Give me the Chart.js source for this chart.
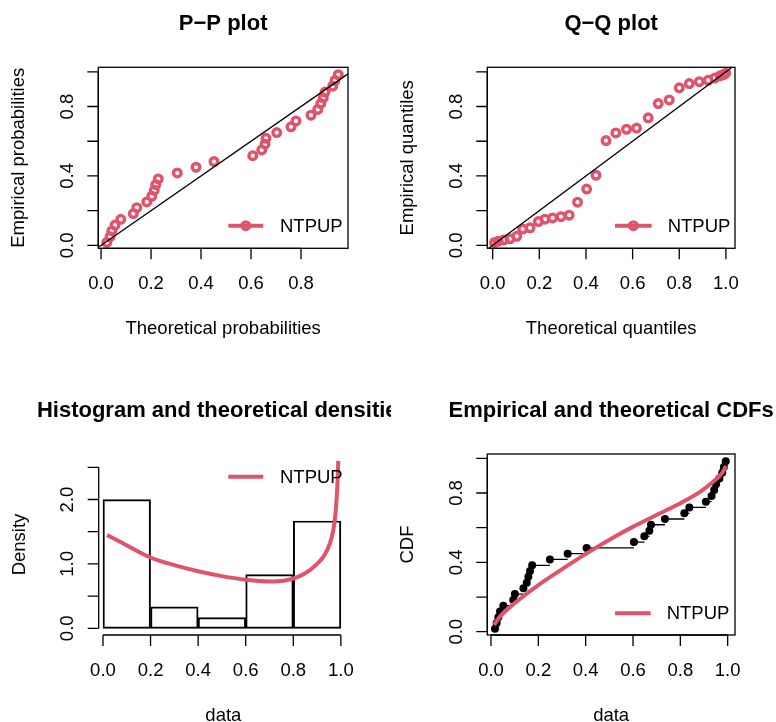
<!DOCTYPE html>
<html>
<head>
<meta charset="utf-8">
<script src="https://cdn.jsdelivr.net/npm/chart.js@4"></script>
<style>
  body { margin: 0; background: #fff; }
  #wrap { position: relative; width: 776px; height: 722px; overflow: hidden; }
  canvas { position: absolute; }
</style>
</head>
<body>
<div id="wrap">
  <canvas id="pp" width="388" height="361" style="left:0;top:0;z-index:1"></canvas>
  <canvas id="qq" width="388" height="361" style="left:388px;top:0;z-index:2"></canvas>
  <canvas id="hist" width="391" height="361" style="left:0;top:361px;z-index:1"></canvas>
  <canvas id="cdf" width="388" height="361" style="left:388px;top:361px;z-index:2"></canvas>
</div>
<script>
const obs = [0.017, 0.024, 0.031, 0.038, 0.052, 0.094, 0.101, 0.137, 0.151, 0.158,
             0.165, 0.174, 0.249, 0.324, 0.404, 0.604, 0.648, 0.669, 0.676, 0.735,
             0.817, 0.838, 0.908, 0.932, 0.943, 0.951, 0.965, 0.977, 0.984, 0.992];
// empirical probabilities
const probs = [0.017, 0.050, 0.083, 0.117, 0.150, 0.183, 0.217, 0.250, 0.283, 0.317,
               0.350, 0.383, 0.417, 0.450, 0.483, 0.517, 0.550, 0.583, 0.617, 0.650,
               0.683, 0.717, 0.750, 0.783, 0.817, 0.850, 0.883, 0.917, 0.950, 0.983];
// theoretical probabilities (P-P x values)
const ppTheo = [0.023, 0.036, 0.043, 0.056, 0.079, 0.129, 0.143, 0.183, 0.203, 0.213,
                0.219, 0.229, 0.305, 0.380, 0.452, 0.607, 0.643, 0.656, 0.660, 0.703,
                0.760, 0.780, 0.840, 0.867, 0.879, 0.889, 0.896, 0.927, 0.936, 0.949];
// theoretical quantiles (Q-Q x values)
const qqTheo = [0.008, 0.024, 0.048, 0.074, 0.103, 0.129, 0.160, 0.196, 0.224, 0.257,
                0.293, 0.328, 0.364, 0.403, 0.443, 0.486, 0.528, 0.574, 0.617, 0.667,
                0.710, 0.757, 0.800, 0.843, 0.886, 0.924, 0.953, 0.975, 0.990, 0.999];
// histogram
const histBreaks = [0, 0.2, 0.4, 0.6, 0.8, 1.0];
const histDensity = [2.0, 0.333, 0.167, 0.833, 1.667];
// fitted density curve
const densX = [0.017, 0.084, 0.2, 0.3, 0.4, 0.5, 0.6, 0.7, 0.76, 0.82, 0.87, 0.905, 0.93, 0.954, 0.968, 0.978, 0.985, 0.989];
const densY = [1.45, 1.32, 1.10, 0.98, 0.885, 0.81, 0.755, 0.728, 0.74, 0.80, 0.905, 1.02, 1.13, 1.32, 1.52, 1.80, 2.20, 2.6];
// fitted CDF curve
const cdfX = [0.013, 0.038, 0.094, 0.2, 0.305, 0.404, 0.517, 0.601, 0.714, 0.798, 0.883, 0.939, 0.975, 0.993];
const cdfY = [0.039, 0.087, 0.158, 0.269, 0.365, 0.452, 0.544, 0.606, 0.683, 0.74, 0.807, 0.865, 0.913, 0.956];
// ticks
const unitTicks = [0, 0.2, 0.4, 0.6, 0.8, 1.0];
const unitLabels = ['0.0', '0.2', '0.4', '0.6', '0.8', '1.0'];
const probYLabels = ['0.0', '', '0.4', '', '0.8', ''];
const densTicks = [0, 0.5, 1.0, 1.5, 2.0, 2.5];
const densLabels = ['0.0', '', '1.0', '', '2.0', ''];
const seriesName = 'NTPUP';

const RED = '#DF536B';
const FONT = "'Liberation Sans', Arial, Helvetica, sans-serif";

// R-like axes, box, titles and legend drawn from the chart's scales
const rAxes = {
  id: 'rAxes',
  afterDraw(chart, args, o) {
    const p = o.panel;
    const ctx = chart.ctx, a = chart.chartArea;
    const xs = chart.scales.x, ys = chart.scales.y;
    ctx.save();
    ctx.strokeStyle = '#000';
    ctx.fillStyle = '#000';
    ctx.lineWidth = 1.3;
    if (p.box) ctx.strokeRect(a.left, a.top, a.right - a.left, a.bottom - a.top);

    // x axis
    const xp = p.xTicks.map(v => xs.getPixelForValue(v));
    ctx.beginPath();
    ctx.moveTo(xp[0], a.bottom); ctx.lineTo(xp[xp.length - 1], a.bottom);
    xp.forEach(x => { ctx.moveTo(x, a.bottom); ctx.lineTo(x, a.bottom + 11); });
    ctx.stroke();
    ctx.font = '18.5px ' + FONT;
    ctx.textAlign = 'center';
    ctx.textBaseline = 'alphabetic';
    xp.forEach((x, i) => ctx.fillText(p.xLabels[i], x, a.bottom + 41));

    // y axis
    const yp = p.yTicks.map(v => ys.getPixelForValue(v));
    ctx.beginPath();
    ctx.moveTo(a.left, yp[0]); ctx.lineTo(a.left, yp[yp.length - 1]);
    yp.forEach(y => { ctx.moveTo(a.left, y); ctx.lineTo(a.left - 11, y); });
    ctx.stroke();
    yp.forEach((y, i) => {
      if (!p.yLabels[i]) return;
      ctx.save();
      ctx.translate(a.left - 25.5, y);
      ctx.rotate(-Math.PI / 2);
      ctx.fillText(p.yLabels[i], 0, 0);
      ctx.restore();
    });

    // axis titles
    const cx = (a.left + a.right) / 2, cy = (a.top + a.bottom) / 2;
    ctx.fillText(p.xTitle, cx, a.bottom + 85.5);
    ctx.save();
    ctx.translate(a.left - 74, cy);
    ctx.rotate(-Math.PI / 2);
    ctx.fillText(p.yTitle, 0, 0);
    ctx.restore();

    // main title
    ctx.font = 'bold 22px ' + FONT;
    ctx.fillText(p.title, cx, a.top - 37.3);

    // legend
    const lg = p.legend;
    ctx.strokeStyle = RED;
    ctx.lineWidth = 4;
    ctx.beginPath();
    ctx.moveTo(lg.x0, lg.y); ctx.lineTo(lg.x1, lg.y);
    ctx.stroke();
    if (lg.point) {
      ctx.lineWidth = 3.4;
      ctx.beginPath();
      ctx.arc((lg.x0 + lg.x1) / 2, lg.y, 3.8, 0, Math.PI * 2);
      ctx.stroke();
    }
    ctx.font = '18.5px ' + FONT;
    ctx.textAlign = 'left';
    ctx.textBaseline = 'middle';
    ctx.fillText(seriesName, lg.tx, lg.y + 1);
    ctx.restore();
  }
};

function makeChart(id, panel, datasets, xr, yr) {
  return new Chart(document.getElementById(id), {
    type: 'scatter',
    data: { datasets: datasets },
    options: {
      responsive: false,
      animation: false,
      devicePixelRatio: 1,
      events: [],
      layout: { padding: panel.pad },
      plugins: { legend: { display: false }, tooltip: { enabled: false }, rAxes: { panel: panel } },
      scales: {
        x: { type: 'linear', min: xr[0], max: xr[1], offset: false, display: false },
        y: { type: 'linear', min: yr[0], max: yr[1], display: false }
      }
    },
    plugins: [rAxes]
  });
}

const diag = {
  type: 'line', data: [{ x: -1, y: -1 }, { x: 2, y: 2 }],
  borderColor: '#000', borderWidth: 1.3, pointRadius: 0
};
const ringStyle = {
  type: 'scatter', borderColor: RED, backgroundColor: 'rgba(0,0,0,0)',
  pointRadius: 3.8, pointBorderWidth: 3.4
};

// P-P plot
makeChart('pp', {
  pad: { left: 98.3, top: 67.3, right: 40, bottom: 112.7 },
  box: true, title: 'P\u2212P plot', xTitle: 'Theoretical probabilities', yTitle: 'Empirical probabilities',
  xTicks: unitTicks.slice(0, 5), xLabels: unitLabels.slice(0, 5), yTicks: unitTicks, yLabels: probYLabels,
  legend: { x0: 228.3, x1: 263.3, y: 225.7, tx: 280, point: true }
}, [
  diag,
  Object.assign({ data: ppTheo.map((v, i) => ({ x: v, y: probs[i] })) }, ringStyle)
], [-0.011, 0.988], [-0.017, 1.026]);

// Q-Q plot
makeChart('qq', {
  pad: { left: 99.3, top: 67.3, right: 41, bottom: 112.7 },
  box: true, title: 'Q\u2212Q plot', xTitle: 'Theoretical quantiles', yTitle: 'Empirical quantiles',
  xTicks: unitTicks, xLabels: unitLabels, yTicks: unitTicks, yLabels: probYLabels,
  legend: { x0: 227, x1: 263.7, y: 225.7, tx: 279.7, point: true }
}, [
  diag,
  Object.assign({ data: qqTheo.map((v, i) => ({ x: v, y: obs[i] })) }, ringStyle)
], [-0.023, 1.039], [-0.017, 1.026]);

// Histogram and density
makeChart('hist', {
  pad: { left: 98.7, top: 93, right: 43, bottom: 87 },
  box: false, title: 'Histogram and theoretical densities', xTitle: 'data', yTitle: 'Density',
  xTicks: unitTicks, xLabels: unitLabels, yTicks: densTicks, yLabels: densLabels,
  legend: { x0: 228.3, x1: 263.3, y: 115.7, tx: 280, point: false }
}, [
  { type: 'line', data: densX.map((v, i) => ({ x: v, y: densY[i] })), borderColor: RED, borderWidth: 4,
    pointRadius: 0, cubicInterpolationMode: 'monotone', clip: false },
  { type: 'bar', data: histDensity.map((d, i) => ({ x: (histBreaks[i] + histBreaks[i + 1]) / 2, y: d })),
    backgroundColor: 'rgba(0,0,0,0)', borderColor: '#000', borderWidth: 1.3, borderSkipped: false,
    barPercentage: 1, categoryPercentage: 1 }
], [-0.018, 1.03], [-0.104, 2.707]);

// Empirical and theoretical CDFs
const steps = [];
for (let i = 0; i < obs.length - 1; i++) {
  steps.push({ x: obs[i], y: probs[i] }, { x: obs[i + 1], y: probs[i] }, { x: obs[i + 1], y: null });
}
makeChart('cdf', {
  pad: { left: 99.3, top: 93, right: 41, bottom: 87 },
  box: true, title: 'Empirical and theoretical CDFs', xTitle: 'data', yTitle: 'CDF',
  xTicks: unitTicks, xLabels: unitLabels, yTicks: unitTicks, yLabels: probYLabels,
  legend: { x0: 227, x1: 262.7, y: 252.3, tx: 278.7, point: false }
}, [
  { type: 'line', data: cdfX.map((v, i) => ({ x: v, y: cdfY[i] })), borderColor: RED, borderWidth: 4,
    pointRadius: 0, cubicInterpolationMode: 'monotone' },
  { type: 'scatter', data: obs.map((v, i) => ({ x: v, y: probs[i] })), backgroundColor: '#000',
    borderWidth: 0, pointRadius: 4 },
  { type: 'line', data: steps, borderColor: '#000', borderWidth: 1.3, pointRadius: 0, spanGaps: false }
], [-0.0156, 1.031], [-0.019, 1.025]);
</script>
</body>
</html>
